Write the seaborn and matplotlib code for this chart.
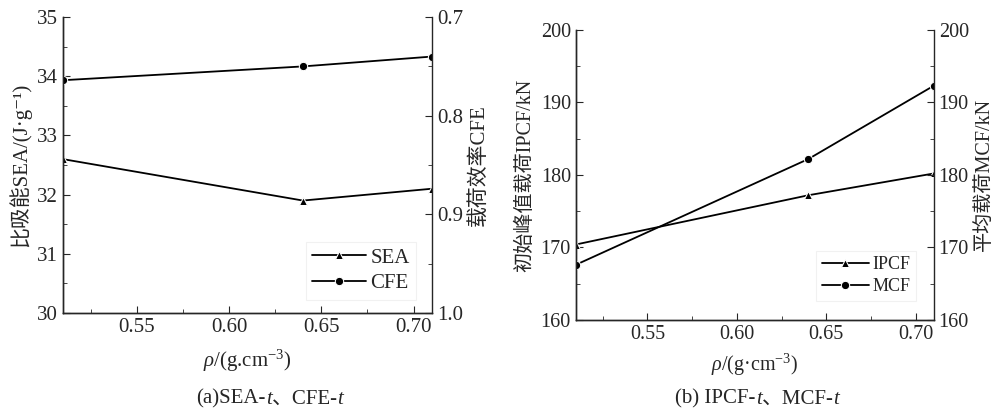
import matplotlib
matplotlib.use("Agg")
import matplotlib.pyplot as plt
import seaborn as sns
import pandas as pd
from matplotlib.ticker import AutoMinorLocator, MultipleLocator
from matplotlib.offsetbox import TextArea, HPacker, AnchoredOffsetbox

# data
rho = [0.51, 0.64, 0.71]
sea = [32.6, 31.9, 32.1]
cfe = [0.764, 0.750, 0.740]
ipcf = [170.4, 177.2, 180.2]
mcf = [167.6, 182.2, 192.3]

sns.set_style("ticks")
fonts = ['Liberation Serif', 'Noto Sans CJK SC', 'DejaVu Serif']
plt.rcParams['font.family'] = fonts
plt.rcParams['mathtext.fontset'] = 'custom'
plt.rcParams['mathtext.rm'] = 'Liberation Serif'
plt.rcParams['mathtext.it'] = 'Liberation Serif:italic'
plt.rcParams['axes.linewidth'] = 1.0
plt.rcParams['axes.unicode_minus'] = False

df_a = pd.DataFrame({'rho': rho, 'SEA': sea, 'CFE': cfe})
df_b = pd.DataFrame({'rho': rho, 'IPCF': ipcf, 'MCF': mcf})

fig = plt.figure(figsize=(10.03, 4.15), dpi=100)
ax1 = fig.add_axes([0.0628, 0.2458, 0.368, 0.713])
ax2 = fig.add_axes([0.574, 0.229, 0.357, 0.699])

line_kw = dict(color='black', linewidth=1.3, markersize=6)


def style(ax, tw, fs=15):
    for a in (ax, tw):
        a.spines['top'].set_visible(False)
        a.xaxis.set_minor_locator(AutoMinorLocator(2))
        a.yaxis.set_minor_locator(AutoMinorLocator(2))
        a.tick_params(which='both', direction='in', labelsize=fs)
        a.tick_params(which='major', length=5)
        a.tick_params(which='minor', length=3)
    ax.spines['right'].set_visible(False)
    ax.set_xlim(0.51, 0.71)
    ax.xaxis.set_major_locator(MultipleLocator(0.05))
    ax.xaxis.set_major_formatter(plt.FormatStrFormatter('%.2f'))


# (a) SEA / CFE
sns.lineplot(data=df_a, x='rho', y='SEA', ax=ax1, marker='^', label='SEA', legend=False, **line_kw)
tw1 = ax1.twinx()
sns.lineplot(data=df_a, x='rho', y='CFE', ax=tw1, marker='o', label='CFE', legend=False, **line_kw)
style(ax1, tw1)
ax1.set_ylim(30, 35)
ax1.yaxis.set_major_locator(MultipleLocator(1))
tw1.set_ylim(1.0, 0.7)
tw1.yaxis.set_major_locator(MultipleLocator(0.1))
tw1.yaxis.set_minor_locator(MultipleLocator(0.05))
tw1.yaxis.set_major_formatter(plt.FormatStrFormatter('%.1f'))
ax1.set_xlabel(r'$\rho$/(g.cm$^{-3}$)', fontsize=15, labelpad=8)
ax1.set_ylabel('比吸能SEA/(J·g⁻¹)', fontsize=15, labelpad=4)
tw1.set_ylabel('载荷效率CFE', fontsize=15, labelpad=4)
h1, l1 = ax1.get_legend_handles_labels()
h2, l2 = tw1.get_legend_handles_labels()
leg = ax1.legend(h1 + h2, l1 + l2, loc='lower right', bbox_to_anchor=(0.985, 0.01),
                 fontsize=15, frameon=True, fancybox=False, handlelength=2.6,
                 borderpad=0.3, labelspacing=0.3, handletextpad=0.2)
leg.get_frame().set_edgecolor('#eeeeee')
leg.get_frame().set_linewidth(0.8)

# (b) IPCF / MCF
sns.lineplot(data=df_b, x='rho', y='IPCF', ax=ax2, marker='^', label='IPCF', legend=False, **line_kw)
tw2 = ax2.twinx()
sns.lineplot(data=df_b, x='rho', y='MCF', ax=tw2, marker='o', label='MCF', legend=False, **line_kw)
style(ax2, tw2, fs=14.5)
for a in (ax2, tw2):
    a.set_ylim(160, 200)
    a.yaxis.set_major_locator(MultipleLocator(10))
    a.yaxis.set_minor_locator(MultipleLocator(5))
ax2.set_xlabel(r'$\rho$/(g·cm$^{-3}$)', fontsize=14.5, labelpad=6)
ax2.set_ylabel('初始峰值载荷IPCF/kN', fontsize=14.5, labelpad=4)
tw2.set_ylabel('平均载荷MCF/kN', fontsize=14.5, labelpad=4)
h1, l1 = ax2.get_legend_handles_labels()
h2, l2 = tw2.get_legend_handles_labels()
leg = ax2.legend(h1 + h2, l1 + l2, loc='lower right', bbox_to_anchor=(0.975, 0.035),
                 fontsize=13, frameon=True, fancybox=False, handlelength=2.6,
                 borderpad=0.3, labelspacing=0.3, handletextpad=0.2)
leg.get_frame().set_edgecolor('#eeeeee')
leg.get_frame().set_linewidth(0.8)


def caption(parts, x, y):
    kids = [TextArea(t, textprops=dict(fontsize=15, family=fonts,
                                       style='italic' if it else 'normal'))
            for t, it in parts]
    box = HPacker(children=kids, pad=0, sep=0, align='baseline')
    anc = AnchoredOffsetbox(loc='center', child=box, bbox_to_anchor=(x, y),
                            bbox_transform=fig.transFigure, frameon=False,
                            pad=0, borderpad=0)
    fig.add_artist(anc)


caption([('(a)SEA-', False), ('t', True), ('、CFE-', False), ('t', True)], 0.269, 0.038)
caption([('(b) IPCF-', False), ('t', True), ('、MCF-', False), ('t', True)], 0.755, 0.038)

fig.savefig('out.png', dpi=100, facecolor='white')
